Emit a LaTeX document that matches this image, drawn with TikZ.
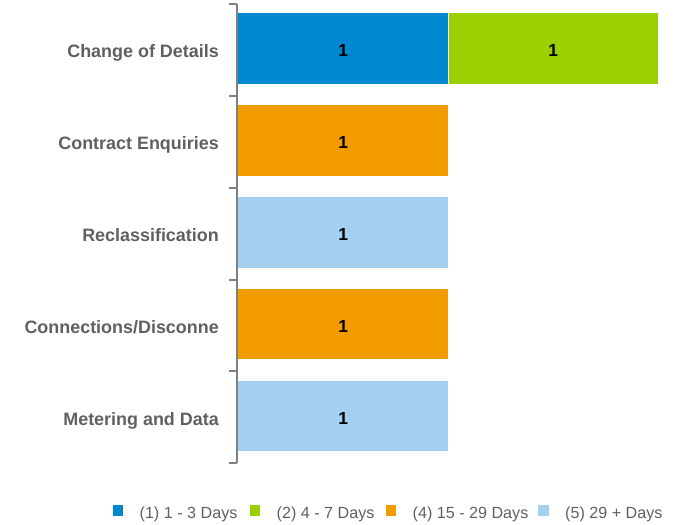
\documentclass[tikz,border=0pt]{standalone}
\usepackage{fontspec}
\setmainfont{Liberation Sans}
\usetikzlibrary{positioning}
\definecolor{barblue}{RGB}{0,137,209}
\definecolor{bargreen}{RGB}{154,208,0}
\definecolor{barorange}{RGB}{243,156,0}
\definecolor{barlight}{RGB}{164,207,238}
\definecolor{labelgray}{RGB}{96,96,96}
\definecolor{axisgray}{RGB}{128,128,128}
\tikzset{
  bar/.style={
    rectangle, inner sep=0pt, anchor=west,
    minimum width=210bp, minimum height=70.5bp, text height=16.8bp,
    font=\fontsize{17.5}{18}\selectfont\bfseries
  },
  catlabel/.style={
    anchor=base east, inner sep=0pt, text=labelgray,
    font=\fontsize{18}{18}\selectfont\bfseries
  },
  legbox/.style={rectangle, inner sep=0pt, minimum size=10.5bp},
  legtext/.style={
    inner sep=0pt, text=labelgray, yshift=-3.5bp,
    font=\fontsize{16.2}{16}\selectfont
  },
  axis/.style={draw=axisgray, line width=2bp}
}

\begin{document}
\begin{tikzpicture}[x=1bp, y=-1bp]
  \useasboundingbox (0,0) rectangle (681,525);

  % Category axis with ticks
  \draw[axis] (237,4.5) -- (237,463);
  \foreach \ty in {4.5,96.2,187.9,279.6,371.3,463}
    \draw[axis] (229,\ty) -- (237,\ty);

  % Bars
  \node[bar, fill=barblue] (detblue) at (238,48.5) {1};
  \node[bar, fill=bargreen, minimum width=209bp, right=0pt of detblue] (detgreen) {1};
  \node[bar, fill=barorange] (contract) at (238,140.4) {1};
  \node[bar, fill=barlight] (reclass) at (238,232.3) {1};
  \node[bar, fill=barorange] (connect) at (238,324.2) {1};
  \node[bar, fill=barlight] (meter) at (238,416.1) {1};

  % Category labels
  \node[catlabel] (lbldet) at (219,57.5) {Change of Details};
  \node[catlabel] (lblcontract) at (219,149.4) {Contract Enquiries};
  \node[catlabel] (lblreclass) at (219,241.3) {Reclassification};
  \node[catlabel] (lblconnect) at (219,333.2) {Connections/Disconne};
  \node[catlabel] (lblmeter) at (219,425.1) {Metering and Data};

  % Legend
  \node[legbox, fill=barblue] (keyone) at (118,510.5) {};
  \node[legbox, fill=bargreen] (keytwo) at (255,510.5) {};
  \node[legbox, fill=barorange] (keyfour) at (391,510.5) {};
  \node[legbox, fill=barlight] (keyfive) at (543.5,510.5) {};
  \node[legtext, right=16bp of keyone] (txtone) {(1) 1 - 3 Days};
  \node[legtext, right=16bp of keytwo] (txttwo) {(2) 4 - 7 Days};
  \node[legtext, right=16bp of keyfour] (txtfour) {(4) 15 - 29 Days};
  \node[legtext, right=16bp of keyfive] (txtfive) {(5) 29 + Days};

\end{tikzpicture}
\end{document}
